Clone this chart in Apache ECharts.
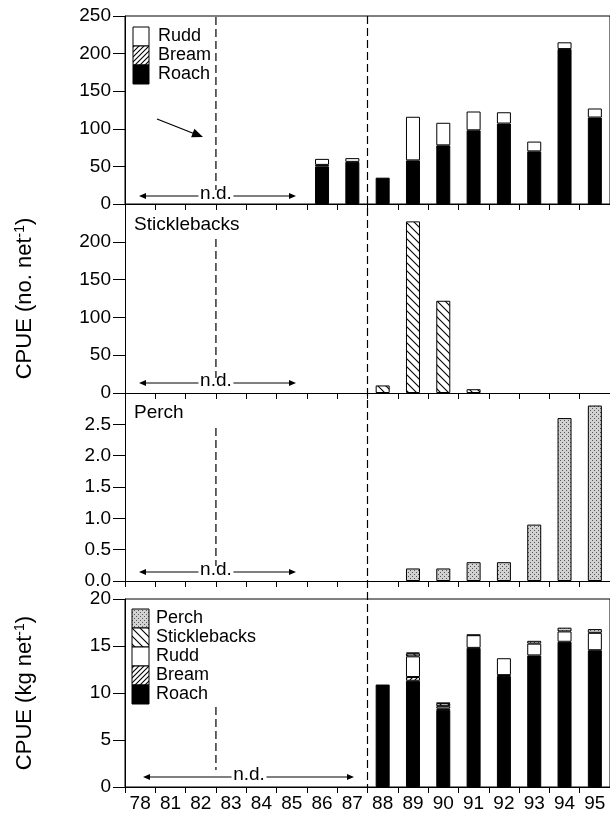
<!DOCTYPE html>
<html><head><meta charset="utf-8">
<script src="https://cdn.jsdelivr.net/npm/echarts@6/dist/echarts.min.js"></script>
<style>html,body{margin:0;padding:0;background:#fff}#c{width:610px;height:814px}</style>
</head><body><div id="c"></div>
<script>
// ---- data ----
const categories = ['78','81','82','83','84','85','86','87','88','89','90','91','92','93','94','95'];
const numRoach  = [null,null,null,null,null,null, 50, 56, 35, 58, 78, 98, 107, 70, 206, 115];
const numBream  = [null,null,null,null,null,null, 2, null, null, null, null, null, null, null, null, null];
const numRudd   = [null,null,null,null,null,null, 8, 5, null, 58, 30, 25, 15, 13, 9, 12];
const numStickle = [null,null,null,null,null,null,null,null, 10, 227, 122, 5, null, null, null, null];
const numPerch  = [null,null,null,null,null,null,null,null, null, 0.2, 0.2, 0.3, 0.3, 0.9, 2.6, 2.8];
const kgRoach   = [null,null,null,null,null,null,null,null, 10.9, 11.3, 8.2, 14.8, 11.8, 14.0, 15.45, 14.55];
const kgBream   = [null,null,null,null,null,null,null,null, null, 0.4, 0.15, null, 0.1, null, null, null];
const kgRudd    = [null,null,null,null,null,null,null,null, null, 2.2, 0.25, 1.35, 1.8, 1.25, 1.1, 1.85];
const kgStickle = [null,null,null,null,null,null,null,null, null, 0.3, 0.3, null, null, null, null, null];
const kgPerch   = [null,null,null,null,null,null,null,null, null, 0.1, 0.05, 0.05, null, 0.3, 0.4, 0.4];
const yTicksNum = [0, 50, 100, 150, 200, 250];
const yTicksPerch = [0, 0.5, 1.0, 1.5, 2.0, 2.5, 3.0];
const yTicksKg = [0, 5, 10, 15, 20];

// ---- patterns ----
function makeHatch(dir, s, lw) {
  const c = document.createElement('canvas'); c.width = s; c.height = s;
  const g = c.getContext('2d'); g.fillStyle = '#fff'; g.fillRect(0, 0, s, s);
  g.strokeStyle = '#000'; g.lineWidth = lw; g.beginPath();
  if (dir === '/') {
    g.moveTo(-1, s + 1); g.lineTo(s + 1, -1);
    g.moveTo(-1, 1); g.lineTo(1, -1);
    g.moveTo(s - 1, s + 1); g.lineTo(s + 1, s - 1);
  } else {
    g.moveTo(-1, -1); g.lineTo(s + 1, s + 1);
    g.moveTo(s - 1, -1); g.lineTo(s + 1, 1);
    g.moveTo(-1, s - 1); g.lineTo(1, s + 1);
  }
  g.stroke(); return c;
}
function makeStipple() {
  const c = document.createElement('canvas'); c.width = 4; c.height = 4;
  const g = c.getContext('2d'); g.fillStyle = '#d2d2d2'; g.fillRect(0, 0, 4, 4);
  g.fillStyle = '#555'; g.fillRect(0, 0, 1, 1); g.fillRect(2, 2, 1, 1);
  return c;
}
const breamFill = { image: makeHatch('/', 5, 1.1), repeat: 'repeat' };
const stickleFill = { image: makeHatch('\\', 8, 1.1), repeat: 'repeat' };
const perchFill = { image: makeStipple(), repeat: 'repeat' };

const FONT = "'Liberation Sans', Arial, Helvetica, sans-serif";
const GL = 125, GR = -2;
const grids = [
  { left: GL, right: GR, top: 16, height: 188, show: true, borderColor: '#000', borderWidth: 1 },
  { left: GL, right: GR, top: 204, height: 189 },
  { left: GL, right: GR, top: 393, height: 188 },
  { left: GL, right: GR, top: 599, height: 188, show: true, borderColor: '#000', borderWidth: 1 }
];

function xAxis(i, showLabels) {
  return {
    type: 'category', gridIndex: i, data: categories,
    axisLine: { show: true, lineStyle: { color: '#000', width: 1 } },
    axisTick: { show: true, length: 6, lineStyle: { color: '#000' } },
    axisLabel: { show: showLabels, color: '#000', fontSize: 19, fontFamily: FONT, margin: 7, interval: 0 },
    splitLine: { show: false }
  };
}
function yAxis(i, ticks, fmt, extra) {
  const o = {
    type: 'value', gridIndex: i, min: ticks[0], max: ticks[ticks.length - 1],
    interval: ticks[1] - ticks[0],
    axisLine: { show: true, lineStyle: { color: '#000', width: 1 } },
    axisTick: { show: true, length: 12, lineStyle: { color: '#000' } },
    axisLabel: { color: '#000', fontSize: 19, fontFamily: FONT, margin: 14, formatter: fmt },
    splitLine: { show: false }
  };
  return Object.assign(o, extra || {});
}
const titleRich = {
  a: { fontSize: 22, fontFamily: FONT, color: '#000' },
  s: { fontSize: 14, fontFamily: FONT, color: '#000', padding: [0, 0, 10, 0] }
};

function bar(name, data, idx, fill, stack) {
  return {
    name, type: 'bar', data, xAxisIndex: idx, yAxisIndex: idx, stack,
    barWidth: 14, itemStyle: { color: fill, borderColor: '#000', borderWidth: 1 },
    silent: true, animation: false
  };
}

const option = {
  animation: false,
  backgroundColor: '#fff',
  grid: grids,
  xAxis: [xAxis(0, false), xAxis(1, false), xAxis(2, false), xAxis(3, true)],
  yAxis: [
    yAxis(0, yTicksNum, v => String(v)),
    yAxis(1, yTicksNum, v => (v === 250 ? '' : String(v)), {
      name: '{a|CPUE (no. net}{s|-1}{a|)}', nameLocation: 'middle', nameRotate: 90, nameGap: 88,
      nameTextStyle: { rich: titleRich }
    }),
    yAxis(2, yTicksPerch, v => (v >= 3 ? '' : v.toFixed(1))),
    yAxis(3, yTicksKg, v => String(v), {
      name: '{a|CPUE (kg net}{s|-1}{a|)}', nameLocation: 'middle', nameRotate: 90, nameGap: 88,
      nameTextStyle: { rich: titleRich }
    })
  ],
  series: [
    bar('Roach', numRoach, 0, '#000', 'n'),
    bar('Bream', numBream, 0, breamFill, 'n'),
    bar('Rudd', numRudd, 0, '#fff', 'n'),
    bar('Sticklebacks', numStickle, 1, stickleFill, 's'),
    bar('Perch', numPerch, 2, perchFill, 'p'),
    bar('Roach', kgRoach, 3, '#000', 'k'),
    bar('Bream', kgBream, 3, breamFill, 'k'),
    bar('Rudd', kgRudd, 3, '#fff', 'k'),
    bar('Sticklebacks', kgStickle, 3, stickleFill, 'k'),
    bar('Perch', kgPerch, 3, perchFill, 'k')
  ]
};

const chart = echarts.init(document.getElementById('c'), null, { renderer: 'canvas' });
chart.setOption(option);

// ---- annotations ----
const px = (cat) => chart.convertToPixel({ xAxisIndex: 0 }, cat);
const xb1 = (px('82') + px('83')) / 2;
const xb2 = (px('87') + px('88')) / 2;
const g = [];
function dline(x, y1, y2) {
  g.push({ type: 'line', shape: { x1: x, y1, x2: x, y2 }, style: { stroke: '#000', lineWidth: 1.2, lineDash: [8, 4] }, silent: true });
}
function arrowHead(tx, ty, dx, dy, len, hw) {
  const bx = tx - dx * len, by = ty - dy * len;
  g.push({ type: 'polygon', shape: { points: [[tx, ty], [bx - dy * hw, by + dx * hw], [bx + dy * hw, by - dx * hw]] }, style: { fill: '#000' }, silent: true });
}
function nd(y, xl, xtc, xr, tw) {
  g.push({ type: 'line', shape: { x1: xl + 5, y1: y, x2: xtc - tw / 2 - 1, y2: y }, style: { stroke: '#000', lineWidth: 1 }, silent: true });
  arrowHead(xl, y, -1, 0, 7, 3);
  g.push({ type: 'line', shape: { x1: xtc + tw / 2 + 1, y1: y, x2: xr - 5, y2: y }, style: { stroke: '#000', lineWidth: 1 }, silent: true });
  arrowHead(xr, y, 1, 0, 7, 3);
  g.push({ type: 'text', x: xtc, y: y - 2, style: { text: 'n.d.', font: '19px ' + FONT, fill: '#000', align: 'center', verticalAlign: 'middle' }, silent: true });
}
dline(xb1, 17, 190);
dline(xb1, 239, 378);
dline(xb1, 428, 566);
dline(xb1, 707, 770);
dline(xb2, 16, 787);
nd(196, 139, xb1, 296, 33);
nd(383, 139, xb1, 296, 33);
nd(572, 139, xb1, 296, 33);
nd(777, 143, 249, 354, 33);

// arrow in panel 1
g.push({ type: 'line', shape: { x1: 157, y1: 119, x2: 195, y2: 134 }, style: { stroke: '#000', lineWidth: 1.3 }, silent: true });
(function () { const dx = 46, dy = 18, L = Math.hypot(dx, dy); arrowHead(203, 137, dx / L, dy / L, 11, 4.5); })();

// legends
function legend(x, y0, w, h, items, tx) {
  items.forEach((it, i) => {
    g.push({ type: 'rect', shape: { x, y: y0 + i * h, width: w, height: h }, style: { fill: it.fill, stroke: '#000', lineWidth: 1 }, silent: true });
    g.push({ type: 'text', x: tx, y: y0 + i * h + h / 2, style: { text: it.name, font: '18px ' + FONT, fill: '#000', align: 'left', verticalAlign: 'middle' }, silent: true });
  });
}
legend(133, 27, 16, 19, [{ name: 'Rudd', fill: '#fff' }, { name: 'Bream', fill: breamFill }, { name: 'Roach', fill: '#000' }], 158);
legend(132, 609, 17, 19, [
  { name: 'Perch', fill: perchFill }, { name: 'Sticklebacks', fill: stickleFill },
  { name: 'Rudd', fill: '#fff' }, { name: 'Bream', fill: breamFill }, { name: 'Roach', fill: '#000' }
], 156);

// panel labels
g.push({ type: 'text', x: 134, y: 225, style: { text: 'Sticklebacks', font: '19px ' + FONT, fill: '#000', verticalAlign: 'middle' }, silent: true });
g.push({ type: 'text', x: 134, y: 413, style: { text: 'Perch', font: '19px ' + FONT, fill: '#000', verticalAlign: 'middle' }, silent: true });

chart.setOption({ graphic: { elements: g } });
</script>
</body></html>
